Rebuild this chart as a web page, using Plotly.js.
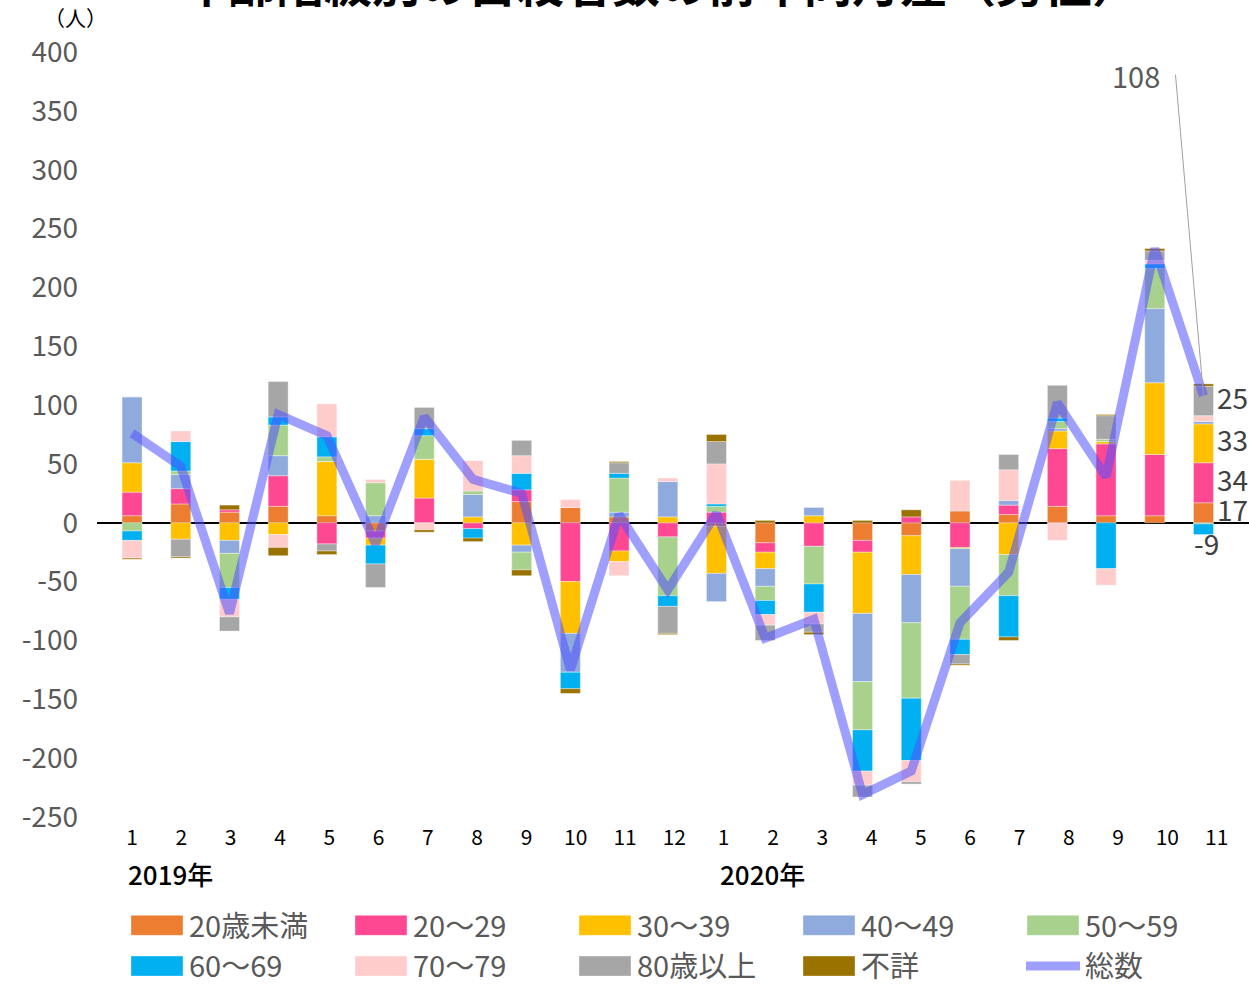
<!DOCTYPE html>
<html><head><meta charset="utf-8">
<script src="https://cdn.plot.ly/plotly-3.0.1.min.js"></script>
<style>html,body{margin:0;padding:0;background:#fff}</style>
</head><body>
<div id="chart" style="width:1249px;height:985px"></div>
<script>
// ---------------- data ----------------
const months = ['1','2','3','4','5','6','7','8','9','10','11','12','1','2','3','4','5','6','7','8','9','10','11'];
const yearLabels = ['2019年', '2020年'];
const yearStartIndex = [0, 12];
const seriesNames = ['20歳未満','20～29','30～39','40～49','50～59','60～69','70～79','80歳以上','不詳'];
const yTickVals = [400, 350, 300, 250, 200, 150, 100, 50, 0, -50, -100, -150, -200, -250];
const yTickText = ['400','350','300','250','200','150','100','50','0','-50','-100','-150','-200','-250'];

const under20 = [6,16,9,14,6,-7,0,0,18,13,5,0,-3,-17,0,-15,-11,10,7,14,6,6,17];
const age20s  = [20,13,2,26,-18,-6,21,-5,10,-50,-24,-12,9,-8,-20,-10,5,-21,8,49,61,52,34];
const age30s  = [25,-14,-15,-10,46,-6,33,5,-19,-44,-9,5,-40,-14,6,-52,-33,-1,-27,15,2,61,33];
const age40s  = [56,12,-11,17,0,6,0,19,-6,-33,4,30,-24,-15,7,-58,-41,-32,4,2,0,63,2];
const age50s  = [-7,3,-29,26,4,28,20,3,-15,0,29,-50,5,-12,-32,-41,-64,-45,-35,6,2,34,-1];
const age60s  = [-8,25,-10,7,17,-16,6,-8,14,-14,4,-9,2,-12,-24,-35,-53,-13,-35,3,-39,4,-9];
const age70s  = [-15,9,-15,-11,28,3,-6,26,15,7,-12,3,34,-9,-10,-12,-18,26,26,-15,-14,3,5];
const over80  = [0,-15,-12,30,-6,-20,18,0,13,0,9,-23,19,-13,-7,-10,-2,-8,13,28,20,8,25];
const unknown = [-1,-1,4,-7,-3,0,-2,-3,-5,-4,1,-1,6,2,-2,2,6,-1,-3,0,1,2,2];
const totals  = [76,48,-77,92,74,-18,90,37,25,-125,7,-57,8,-98,-82,-231,-211,-85,-42,102,39,233,108];
const totalName = '総数';
const labeledSeries = [0, 1, 2, 5, 7]; // series whose last value carries a data label

// ---------------- style ----------------
const seriesValues = [under20, age20s, age30s, age40s, age50s, age60s, age70s, over80, unknown];
const colors = ['#ED7D31','#FF4792','#FFC000','#8FAADC','#A9D18E','#00B0F0','#FFCCCC','#A6A6A6','#9A7200'];
const FONT = '"Noto Sans CJK JP", "Noto Sans", sans-serif';
const L = 97, T = 52, W = 1152, H = 765;          // plot area in px
const LABEL_STRETCH = 49.3 / 48.7;                 // tick labels drift slightly vs. bars
const px = x => (x - L) / W, py = y => (T + H - y) / H;

const xIdx = months.map((m, i) => i);

const traces = seriesNames.map((name, k) => ({
  type: 'bar', name: name, x: xIdx, y: seriesValues[k],
  marker: { color: colors[k], line: { color: 'rgba(255,255,255,0.6)', width: 0.6 } },
  hoverinfo: 'skip'
}));
traces.push({
  type: 'scatter', mode: 'lines', name: totalName, x: xIdx, y: totals,
  line: { color: 'rgba(80,80,255,0.55)', width: 9 }, hoverinfo: 'skip'
});

const annotations = [];
// title (cut off at top in the reference)
annotations.push({
  xref: 'paper', yref: 'paper', x: px(660), y: py(18), xanchor: 'center', yanchor: 'bottom',
  text: '<b>年齢階級別の自殺者数の前年同月差（男性）</b>', showarrow: false,
  font: { family: FONT, size: 48, color: '#000' }
});
annotations.push({
  xref: 'paper', yref: 'paper', x: px(75), y: py(17), xanchor: 'center', yanchor: 'middle',
  text: '（人）', showarrow: false, font: { family: FONT, size: 21, color: '#000' }
});
yearLabels.forEach((t, j) => annotations.push({
  xref: 'x', yref: 'paper', x: yearStartIndex[j] * LABEL_STRETCH, y: py(873), xanchor: 'left', yanchor: 'middle',
  xshift: -6, text: t, showarrow: false, font: { family: FONT, size: 26, color: '#000', weight: 500 }
}));

// data labels on last month
const last = months.length - 1;
let posBase = 0, negBase = 0;
seriesValues.forEach((vals, k) => {
  const v = vals[last];
  let lo, hi;
  if (v >= 0) { lo = posBase; hi = posBase + v; posBase = hi; }
  else { hi = negBase; lo = negBase + v; negBase = lo; }
  if (labeledSeries.includes(k)) {
    if (v >= 0) {
      annotations.push({ xref: 'x', yref: 'y', x: last, y: (lo + hi) / 2, xanchor: 'left', yanchor: 'middle',
        xshift: 12, yshift: 4, text: String(v), showarrow: false, font: { family: FONT, size: 28, color: '#404040' } });
    } else {
      annotations.push({ xref: 'x', yref: 'y', x: last, y: lo, xanchor: 'center', yanchor: 'top',
        xshift: 3, yshift: 14, text: String(v), showarrow: false, font: { family: FONT, size: 28, color: '#404040' } });
    }
  }
});
annotations.push({
  xref: 'x', yref: 'y', x: last, y: totals[last], text: String(totals[last]),
  showarrow: true, arrowhead: 0, arrowwidth: 1, arrowcolor: '#a0a0a0',
  ax: -28, ay: -321, xanchor: 'right', yanchor: 'middle', borderpad: 14,
  font: { family: FONT, size: 29, color: '#595959' }
});

const layout = {
  width: 1249, height: 985,
  margin: { l: L, r: 1249 - L - W, t: T, b: 985 - T - H, pad: 0 },
  paper_bgcolor: '#fff', plot_bgcolor: '#fff',
  barmode: 'relative', bargap: 0.59,
  showlegend: true,
  font: { family: FONT, color: '#595959' },
  xaxis: {
    type: 'linear', range: [-0.72, 22.935], showgrid: false, zeroline: false, showline: false,
    ticks: '', tickmode: 'array', tickvals: xIdx.map(i => i * LABEL_STRETCH), ticktext: months,
    tickfont: { family: FONT, size: 21, color: '#000' }, ticklabelstandoff: 6
  },
  yaxis: {
    range: [-250, 400], tickmode: 'array', tickvals: yTickVals, ticktext: yTickText,
    showgrid: false, showline: false, ticks: '',
    zeroline: true, zerolinecolor: '#000', zerolinewidth: 1.5,
    tickfont: { family: FONT, size: 28, color: '#595959' }, ticklabelstandoff: 18
  },
  legend: {
    orientation: 'h', xref: 'container', yref: 'container', x: 125 / 1249, y: 1 - 900 / 985,
    xanchor: 'left', yanchor: 'top', entrywidth: 155, entrywidthmode: 'pixels', itemwidth: 54,
    traceorder: 'normal', font: { family: FONT, size: 29, color: '#595959' }, bgcolor: 'rgba(0,0,0,0)'
  },
  annotations: annotations
};

const gd = document.getElementById('chart');
Plotly.newPlot(gd, traces, layout, { staticPlot: true, displayModeBar: false }).then(() => {
  const groups = gd.querySelectorAll('.legend .traces');
  groups.forEach((g, i) => {
    if (i < seriesNames.length) {
      g.querySelectorAll('.legendpoints path').forEach(p => p.setAttribute('d', 'M-26,-10H26V10H-26Z'));
    }
  });
});
</script>
</body></html>
